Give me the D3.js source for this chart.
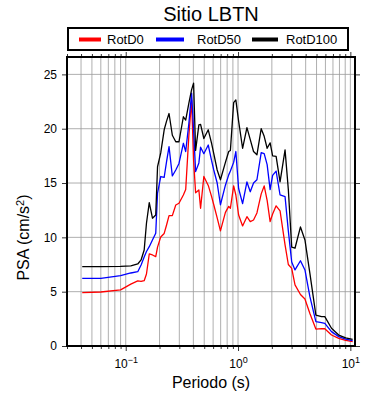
<!DOCTYPE html>
<html>
<head>
<meta charset="utf-8">
<script src="https://cdn.jsdelivr.net/npm/d3@7"></script>
<style>
  body { margin: 0; background: #fff; }
  text { font-family: "Liberation Sans", Arial, Helvetica, sans-serif; }
</style>
</head>
<body>
<svg></svg>
<script>
const width = 390
const height = 400

// Data
const periods = [0.041, 0.06, 0.09, 0.111, 0.128, 0.137, 0.146, 0.153, 0.162, 0.173,
    0.185, 0.192, 0.205, 0.22, 0.231, 0.243, 0.26, 0.279, 0.298, 0.326,
    0.342, 0.365, 0.386, 0.402, 0.419, 0.448, 0.464, 0.496, 0.543, 0.58,
    0.608, 0.652, 0.697, 0.772, 0.826, 0.855, 0.914, 0.956, 1.012, 1.098,
    1.2, 1.285, 1.374, 1.473, 1.608, 1.709, 1.816, 1.931, 2.032, 2.183,
    2.367, 2.622, 2.804, 3.005, 3.215, 3.596, 3.941, 4.363, 4.932, 5.539,
    5.924, 6.792, 7.879, 9.088, 10.48]

const rotD0 = [4.91, 4.97, 5.16, 5.7, 5.99, 5.94, 6.01, 6.63, 8.47, 8.38,
    8.22, 9.1, 10.04, 10.36, 11.14, 12.0, 12.0, 12.98, 13.14, 13.9,
    14.4, 19.4, 22.65, 17.1, 14.1, 14.36, 12.68, 15.6, 14.78, 13.8,
    13.0, 11.8, 10.6, 12.3, 12.85, 12.68, 14.73, 13.9, 12.06, 11.05,
    11.9, 11.45, 11.6, 12.25, 14.0, 14.73, 13.4, 11.45, 12.15, 12.9,
    12.43, 9.3, 7.5, 7.15, 5.62, 4.74, 4.32, 2.99, 1.56, 1.59,
    1.59, 1.01, 0.71, 0.51, 0.4]

const rotD50 = [6.23, 6.23, 6.47, 6.72, 6.84, 7.46, 8.2, 8.7, 9.14, 9.76,
    10.38, 14.06, 15.6, 15.53, 16.97, 18.35, 15.65, 16.2, 16.8, 18.66,
    17.9, 20.5, 23.27, 19.9, 16.05, 16.85, 18.3, 17.7, 18.5, 17.1,
    16.2, 15.0, 13.0, 14.8, 15.75, 16.1, 16.9, 17.9, 14.5, 13.1,
    15.1, 14.2, 15.0, 15.3, 17.8, 17.7, 16.7, 14.4, 15.7, 16.1,
    13.9, 13.75, 10.6, 7.73, 7.0, 7.85, 7.0, 4.54, 2.24, 2.15,
    2.09, 1.32, 0.86, 0.64, 0.49]

const rotD100 = [7.3, 7.3, 7.32, 7.37, 7.55, 7.92, 8.84, 11.3, 13.2, 11.76,
    12.06, 16.5, 17.77, 19.9, 20.7, 21.4, 19.4, 18.8, 18.8, 21.1,
    20.8, 22.35, 23.6, 24.2, 18.0, 20.35, 20.4, 19.1, 19.9, 18.7,
    17.7, 16.2, 15.3, 16.9, 17.9, 18.0, 22.4, 22.65, 20.7, 18.2,
    20.1, 19.0, 17.9, 17.6, 20.0, 19.3, 18.2, 18.7, 17.5, 17.45,
    15.1, 18.05, 14.4, 9.1, 9.0, 10.96, 9.76, 6.69, 2.85, 2.7,
    2.7, 1.63, 1.01, 0.74, 0.6]

const seriesNames = ["RotD0", "RotD50", "RotD100"]
const seriesColors = ["#ff0000", "#0000ff", "#000000"]
const yTicks = [0, 5, 10, 15, 20, 25]
const xMajor = [0.1, 1, 10]
const xMinor = [0.03, 0.04, 0.05, 0.06, 0.07, 0.08, 0.09,
    0.2, 0.3, 0.4, 0.5, 0.6, 0.7, 0.8, 0.9,
    2, 3, 4, 5, 6, 7, 8, 9]

const svg = d3.select("svg")
    .attr("width", width)
    .attr("height", height)

const render = () => {
    const margin = { top: 57, right: 35, bottom: 54, left: 67 }
    const innerWidth = width - margin.left - margin.right
    const innerHeight = height - margin.top - margin.bottom

    const xScale = d3.scaleLog().domain([0.03, 11]).range([0, innerWidth])
    const yScale = d3.scaleLinear().domain([0, 26.6]).range([innerHeight, 0])

    const g = svg.append("g")
        .attr("transform", `translate(${margin.left}, ${margin.top})`)

    // grid
    g.append("g").selectAll("line").data(xMinor.concat(xMajor).filter(d => d > 0.03))
        .enter().append("line")
        .attr("x1", d => xScale(d)).attr("x2", d => xScale(d))
        .attr("y1", 0).attr("y2", innerHeight)
        .attr("stroke", "#9a9a9a").attr("stroke-width", 0.8)
    g.append("g").selectAll("line").data(yTicks.filter(d => d > 0))
        .enter().append("line")
        .attr("x1", 0).attr("x2", innerWidth)
        .attr("y1", d => yScale(d)).attr("y2", d => yScale(d))
        .attr("stroke", "#9a9a9a").attr("stroke-width", 0.8)

    // curves
    const line = d3.line()
        .x((d, i) => xScale(periods[i]))
        .y(d => yScale(d))
    const series = [rotD0, rotD50, rotD100]
    series.forEach((s, k) => {
        g.append("path").datum(s)
            .attr("d", line)
            .attr("fill", "none")
            .attr("stroke", seriesColors[k])
            .attr("stroke-width", 1.3)
            .attr("stroke-linejoin", "round")
    })

    // axes: ticks outside on all four sides
    const styleAxis = sel => {
        sel.select(".domain").remove()
        sel.selectAll(".tick line").attr("stroke", "#000").attr("stroke-width", 0.8)
    }
    const noLabel = () => ""

    g.append("g").attr("transform", `translate(0, ${innerHeight})`)
        .call(d3.axisBottom(xScale).tickValues(xMinor).tickSize(3).tickFormat(noLabel))
        .call(styleAxis)
    const xAxisG = g.append("g").attr("transform", `translate(0, ${innerHeight})`)
        .call(d3.axisBottom(xScale).tickValues(xMajor).tickSize(5).tickPadding(8))
        .call(styleAxis)
    xAxisG.selectAll(".tick text")
        .attr("fill", "#000").attr("font-size", "12px")
        .text(null)
        .call(t => t.append("tspan").text("10"))
        .append("tspan").attr("dy", "-0.55em").attr("font-size", "9px")
        .text(d => d3.format("d")(Math.log10(d)).replace("-", "\u2212"))

    g.append("g")
        .call(d3.axisTop(xScale).tickValues(xMinor).tickSize(3).tickFormat(noLabel))
        .call(styleAxis)
    g.append("g")
        .call(d3.axisTop(xScale).tickValues(xMajor).tickSize(5).tickFormat(noLabel))
        .call(styleAxis)

    const yAxisG = g.append("g")
        .call(d3.axisLeft(yScale).tickValues(yTicks).tickSize(5).tickPadding(5))
        .call(styleAxis)
    yAxisG.selectAll(".tick text").attr("fill", "#000").attr("font-size", "12px")

    g.append("g").attr("transform", `translate(${innerWidth}, 0)`)
        .call(d3.axisRight(yScale).tickValues(yTicks).tickSize(5).tickFormat(noLabel))
        .call(styleAxis)

    // frame
    g.append("rect")
        .attr("width", innerWidth).attr("height", innerHeight)
        .attr("fill", "none").attr("stroke", "#000").attr("stroke-width", 2)

    // axis titles
    g.append("text")
        .attr("x", innerWidth / 2).attr("y", innerHeight + 42)
        .attr("text-anchor", "middle").attr("font-size", "16px")
        .text("Periodo (s)")

    const yLabel = g.append("text")
        .attr("transform", `translate(-38, ${innerHeight / 2 + 36}) rotate(-90)`)
        .attr("text-anchor", "middle").attr("font-size", "16px")
    yLabel.append("tspan").text("PSA (cm/s")
    yLabel.append("tspan").attr("dy", "-0.5em").attr("font-size", "11px").text("2")
    yLabel.append("tspan").attr("dy", "0.35em").text(")")

    // title
    svg.append("text")
        .attr("x", 211).attr("y", 21)
        .attr("text-anchor", "middle").attr("font-size", "20px")
        .text("Sitio LBTN")

    // legend
    const legend = svg.append("g").attr("transform", "translate(68, 28)")
    legend.append("rect")
        .attr("width", 280).attr("height", 22)
        .attr("fill", "#fff").attr("stroke", "#000").attr("stroke-width", 2)
    const offsets = [11, 88, 184]
    const item = legend.selectAll(".item").data(seriesNames)
        .enter().append("g")
        .attr("transform", (d, i) => `translate(${offsets[i]}, 11.5)`)
    item.append("line")
        .attr("x1", 0).attr("x2", (d, i) => [22, 28, 26][i])
        .attr("stroke", (d, i) => seriesColors[i]).attr("stroke-width", 4)
    item.append("text")
        .attr("x", (d, i) => [28, 41, 34][i]).attr("y", 4.5)
        .attr("font-size", "13px")
        .text(d => d)
}

render()
</script>
</body>
</html>
